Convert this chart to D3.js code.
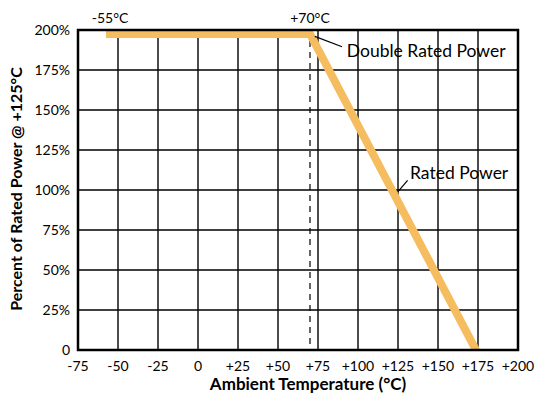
<!DOCTYPE html>
<html>
<head>
<meta charset="utf-8">
<script src="https://cdn.jsdelivr.net/npm/d3@7"></script>
<style>
  html, body { margin: 0; padding: 0; background: #fff; overflow: hidden; }
  svg { display: block; }
  svg text { font-family: Lato, "Open Sans", sans-serif; fill: #000; }
</style>
</head>
<body>
<div id="chart"></div>
<script>
// derating curve
const curveTemps = [-55, 70, 175];
const curvePower = [200, 200, 0];

const xTicks = [-75, -50, -25, 0, 25, 50, 75, 100, 125, 150, 175, 200];
const xTickLabels = ['-75', '-50', '-25', '0', '+25', '+50', '+75', '+100', '+125', '+150', '+175', '+200'];
const yTicks = [0, 25, 50, 75, 100, 125, 150, 175, 200];
const yTickLabels = ['0', '25%', '50%', '75%', '100%', '125%', '150%', '175%', '200%'];

const kneeTemp = 70;
const tempMarks = [-55, 70];
const tempMarkLabels = ['-55°C', '+70°C'];

const xTitle = 'Ambient Temperature (°C)';
const yTitle = 'Percent of Rated Power @ +125°C';

const width = 538, height = 396;
const margin = { top: 30, right: 20, bottom: 46, left: 78 };
const innerWidth = width - margin.left - margin.right;
const innerHeight = height - margin.top - margin.bottom;
const lineColor = '#f6bd60';

const x = d3.scaleLinear().domain([-75, 200]).range([0, innerWidth]);
const y = d3.scaleLinear().domain([0, 200]).range([innerHeight, 0]);

const svg = d3.select('#chart').append('svg').attr('width', width).attr('height', height);
const g = svg.append('g').attr('transform', `translate(${margin.left},${margin.top})`);

svg.append('defs').append('clipPath').attr('id', 'plot-clip')
  .append('rect').attr('width', innerWidth).attr('height', innerHeight);

// grid
g.append('g')
  .selectAll('line')
  .data(xTicks.slice(1, -1))
  .join('line')
  .attr('x1', (d) => x(d)).attr('x2', (d) => x(d))
  .attr('y1', 0).attr('y2', innerHeight)
  .attr('stroke', '#000').attr('stroke-width', 1.4);

g.append('g')
  .selectAll('line')
  .data(yTicks.slice(1, -1))
  .join('line')
  .attr('x1', 0).attr('x2', innerWidth)
  .attr('y1', (d) => y(d)).attr('y2', (d) => y(d))
  .attr('stroke', '#000').attr('stroke-width', 1.4);

// dashed knee marker
g.append('line')
  .attr('x1', x(kneeTemp)).attr('x2', x(kneeTemp))
  .attr('y1', 0).attr('y2', innerHeight)
  .attr('stroke', '#000').attr('stroke-width', 1.2)
  .attr('stroke-dasharray', '6,5');

// curve (top edge sits on the 200% border)
const line = d3.line().x((d) => x(d[0])).y((d) => y(d[1]));
g.append('g')
  .attr('clip-path', 'url(#plot-clip)')
  .append('path')
  .datum(d3.zip(curveTemps, curvePower))
  .attr('transform', 'translate(0,4)')
  .attr('d', line)
  .attr('fill', 'none')
  .attr('stroke', lineColor)
  .attr('stroke-width', 8)
  .attr('stroke-linecap', 'square')
  .attr('stroke-linejoin', 'miter');

// frame
g.append('rect')
  .attr('width', innerWidth).attr('height', innerHeight)
  .attr('fill', 'none').attr('stroke', '#000').attr('stroke-width', 2.5);

// tick labels
g.append('g')
  .selectAll('text')
  .data(xTicks)
  .join('text')
  .attr('x', (d) => x(d))
  .attr('y', innerHeight + 21)
  .attr('text-anchor', 'middle')
  .attr('font-size', 14)
  .text((d, i) => xTickLabels[i]);

g.append('g')
  .selectAll('text')
  .data(yTicks)
  .join('text')
  .attr('x', -8)
  .attr('y', (d) => y(d))
  .attr('dy', '0.36em')
  .attr('text-anchor', 'end')
  .attr('font-size', 14)
  .text((d, i) => yTickLabels[i]);

// temperature marks above the plot
g.append('g')
  .selectAll('text')
  .data(tempMarks)
  .join('text')
  .attr('x', (d) => x(d))
  .attr('y', -7)
  .attr('text-anchor', 'middle')
  .attr('font-size', 14)
  .text((d, i) => tempMarkLabels[i]);

// callouts
g.append('line')
  .attr('x1', x(73)).attr('x2', x(90))
  .attr('y1', y(196)).attr('y2', y(189.5))
  .attr('stroke', '#000').attr('stroke-width', 1.2);
g.append('text')
  .attr('x', x(93)).attr('y', y(183))
  .attr('font-size', 17.5)
  .text('Double Rated Power');

g.append('line')
  .attr('x1', x(125)).attr('x2', x(131))
  .attr('y1', y(99)).attr('y2', y(106))
  .attr('stroke', '#000').attr('stroke-width', 1.2);
g.append('text')
  .attr('x', x(132.5)).attr('y', y(107))
  .attr('font-size', 17.5)
  .text('Rated Power');

// axis titles
g.append('text')
  .attr('x', innerWidth / 2 + 10)
  .attr('y', innerHeight + 40)
  .attr('text-anchor', 'middle')
  .attr('font-size', 17)
  .attr('font-weight', 'bold')
  .text(xTitle);

g.append('text')
  .attr('transform', `translate(${-56},${innerHeight / 2 - 1}) rotate(-90)`)
  .attr('text-anchor', 'middle')
  .attr('font-size', 16)
  .attr('font-weight', 'bold')
  .text(yTitle);
</script>
</body>
</html>
